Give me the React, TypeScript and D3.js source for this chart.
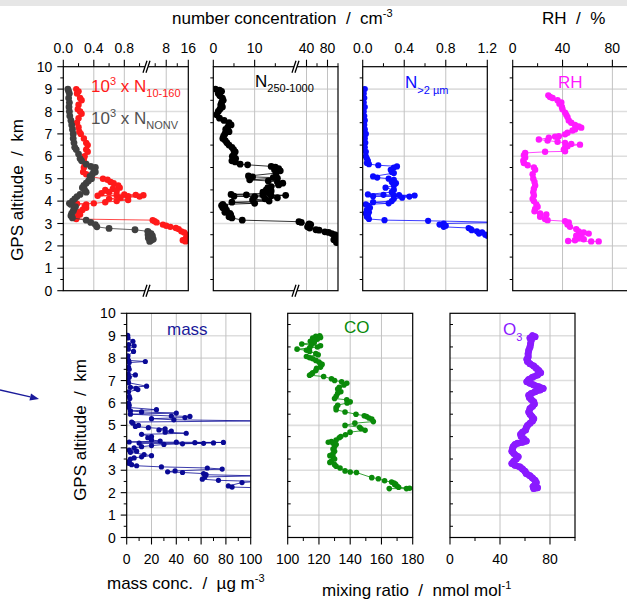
import React from 'react';
import * as d3 from 'd3';

type Pt = [number, number]; // [altitude km, value]

// ---------- data (altitude km, value) ----------
const n10_160: Pt[] = [
  [9.0,0.17],[8.9,0.2],[8.8,0.18],[8.6,0.22],[8.5,0.24],[8.3,0.2],[8.1,0.19],[8.0,0.22],[7.9,0.24],[7.7,0.2],
  [7.5,0.18],[7.3,0.2],[7.1,0.21],[7.0,0.23],[6.8,0.27],[6.6,0.3],[6.5,0.32],[6.3,0.3],[6.2,0.32],[6.0,0.28],
  [5.9,0.27],[5.7,0.28],[5.5,0.27],[5.3,0.26],[5.2,0.3],[5.1,0.35],[5.0,0.52],[4.95,0.58],[4.85,0.62],[4.8,0.66],
  [4.7,0.72],[4.6,0.74],[4.55,0.65],[4.5,0.55],[4.45,0.7],[4.4,0.6],[4.35,0.5],[4.3,0.8],[4.28,0.95],[4.26,1.05],
  [4.25,0.7],[4.24,0.45],[4.22,0.85],[4.2,1.0],[4.15,0.75],[4.1,0.6],[4.05,0.85],[4.0,0.7],[3.95,0.55],[3.9,0.4],
  [3.88,0.18],[3.85,0.3],[3.75,0.28],[3.7,0.3],[3.6,0.25],[3.5,0.2],[3.4,0.22],[3.3,0.18],[3.2,0.17],[3.15,3.1],
  [3.1,3.8],[3.05,4.5],[2.95,6.8],[2.9,8],[2.85,9.5],[2.8,11.5],[2.75,12.5],[2.65,13.5],[2.6,14.5],[2.5,15.5],
  [2.4,16],[2.35,15.2],[2.3,16],[2.25,14],[2.2,15]
];
const nNonv: Pt[] = [
  [9.0,0.06],[8.9,0.07],[8.8,0.08],[8.6,0.07],[8.4,0.08],[8.2,0.075],[8.0,0.08],[7.8,0.085],[7.6,0.1],[7.4,0.11],
  [7.2,0.12],[7.0,0.13],[6.8,0.13],[6.6,0.14],[6.4,0.15],[6.3,0.17],[6.1,0.2],[5.9,0.22],[5.8,0.24],[5.65,0.3],
  [5.55,0.36],[5.5,0.42],[5.4,0.4],[5.3,0.42],[5.2,0.38],[5.1,0.35],[5.0,0.37],[4.9,0.33],[4.8,0.3],[4.7,0.27],
  [4.6,0.25],[4.5,0.28],[4.4,0.3],[4.3,0.22],[4.2,0.18],[4.1,0.15],[4.0,0.12],[3.9,0.08],[3.85,0.1],[3.75,0.16],
  [3.65,0.14],[3.55,0.13],[3.45,0.11],[3.35,0.1],[3.25,0.12],[3.15,0.3],[3.05,0.36],[2.95,0.42],[2.85,0.44],
  [2.78,0.6],[2.72,0.94],[2.65,1.3],[2.6,1.6],[2.55,2.5],[2.5,1.4],[2.45,3],[2.4,2],[2.35,1.5],[2.3,3.3],
  [2.25,2.6],[2.2,2]
];
const n250_1000: Pt[] = [
  [9.0,0.5],[8.95,1.5],[8.9,2],[8.8,1.2],[8.7,1.6],[8.6,2.2],[8.5,2.4],[8.4,2.0],[8.3,1.8],[8.2,2.2],[8.1,1.6],
  [8.0,1.2],[7.85,0.8],[7.7,1.5],[7.6,2.6],[7.5,3.8],[7.4,4.3],[7.3,3.5],[7.2,3.0],[7.1,3.8],[7.0,2.8],[6.9,2.5],
  [6.8,2.3],[6.7,2.9],[6.6,3.3],[6.5,3.8],[6.4,4.5],[6.3,4.9],[6.2,5.3],[6.1,5.0],[6.0,4.6],[5.9,5.4],[5.8,4.5],
  [5.75,5.3],[5.65,6.5],[5.62,8.3],[5.55,14.0],[5.52,15.0],[5.45,15.8],[5.4,14.8],[5.35,16.2],[5.25,15.2],
  [5.12,8.5],[5.08,9.5],[5.05,14.5],[5.02,15.5],[4.95,8.8],[4.9,13.3],[4.85,15.5],[4.8,16.8],[4.72,15.8],
  [4.65,14.0],[4.6,13.2],[4.5,12.8],[4.45,14.0],[4.4,12.0],[4.35,13.5],[4.3,4.3],[4.28,8.0],[4.27,12.0],
  [4.26,17.5],[4.24,14.0],[4.22,5.0],[4.2,10.0],[4.15,15.5],[4.1,12.5],[4.05,9.5],[4.0,13.5],[3.95,4.5],
  [3.9,10.0],[3.85,2.3],[3.8,2.0],[3.75,2.8],[3.7,2.3],[3.6,3.2],[3.5,2.8],[3.45,4.0],[3.4,4.2],[3.3,3.8],
  [3.25,4.5],[3.15,7.0],[3.08,25.6],[3.05,30],[2.98,45],[2.95,48],[2.9,44],[2.85,42],[2.8,46],[2.72,58],
  [2.7,64],[2.63,75],[2.6,82],[2.55,88],[2.5,94],[2.45,98],[2.35,96],[2.28,92],[2.22,100],[2.15,97]
];
const n2um: Pt[] = [
  [9.0,0.02],[8.8,0.01],[8.6,0.015],[8.4,0.01],[8.2,0.02],[8.0,0.01],[7.8,0.015],[7.6,0.02],[7.4,0.015],
  [7.2,0.02],[7.0,0.03],[6.8,0.02],[6.6,0.025],[6.4,0.02],[6.2,0.03],[6.0,0.03],[5.9,0.04],[5.8,0.05],
  [5.7,0.04],[5.65,0.06],[5.6,0.15],[5.55,0.33],[5.5,0.3],[5.4,0.27],[5.3,0.28],[5.25,0.3],[5.1,0.1],
  [5.05,0.14],[5.0,0.25],[4.95,0.3],[4.85,0.28],[4.8,0.32],[4.7,0.3],[4.6,0.22],[4.5,0.3],[4.4,0.28],
  [4.3,0.05],[4.28,0.2],[4.27,0.35],[4.25,0.5],[4.24,0.3],[4.22,0.1],[4.2,0.45],[4.15,0.38],[4.1,0.3],
  [4.0,0.28],[3.95,0.1],[3.9,0.25],[3.85,0.03],[3.8,0.05],[3.7,0.07],[3.6,0.04],[3.5,0.06],[3.45,0.03],
  [3.35,0.05],[3.3,0.04],[3.2,0.06],[3.15,0.21],[3.12,0.63],[3.05,1.35],[3.0,0.78],[2.95,0.74],[2.9,0.8],
  [2.85,0.78],[2.8,1.02],[2.75,1.04],[2.7,1.05],[2.65,1.1],[2.6,1.15],[2.55,1.12],[2.5,1.18],[2.45,1.2]
];
const rh: Pt[] = [
  [8.72,28.6],[8.65,30],[8.6,32],[8.5,36],[8.4,39],[8.35,37.5],[8.2,39.5],[8.1,40],[7.95,42],[7.85,43],
  [7.75,44],[7.6,45],[7.5,47],[7.4,50],[7.33,53],[7.28,55],[7.2,50],[7.15,48],[7.05,44],[6.98,42],[6.9,37],
  [6.88,34],[6.83,29],[6.75,21],[6.7,28],[6.65,36],[6.6,42],[6.55,47],[6.52,54],[6.45,44],[6.38,42],
  [6.3,41],[6.22,42],[6.2,26],[6.15,10],[6.05,9],[5.95,10],[5.8,8.5],[5.7,9],[5.6,12],[5.5,17],[5.4,18],
  [5.2,16],[5.0,16.5],[4.85,17.5],[4.7,18],[4.55,17],[4.4,16.5],[4.25,17],[4.1,16],[4.0,17],[3.85,19],
  [3.75,20],[3.65,18],[3.55,17.5],[3.45,22],[3.4,27],[3.3,22],[3.2,26],[3.15,28],[3.1,42],[3.05,45],
  [2.95,44],[2.85,46],[2.75,51],[2.65,53],[2.6,57],[2.55,61],[2.5,55],[2.45,51],[2.35,53],[2.3,57],
  [2.25,50],[2.22,44.5],[2.2,63],[2.2,69]
];
const massConc: Pt[] = [
  [9.02,0.8],[8.9,1],[8.75,5],[8.6,1.5],[8.55,6],[8.4,1.2],[8.3,5.5],[8.1,1],[7.9,1.5],[7.85,15],[7.8,2],
  [7.6,1.5],[7.5,2],[7.3,1.2],[7.25,7],[7.15,2],[7.0,1],[6.9,1.5],[6.75,16],[6.7,3],[6.65,7.5],[6.6,9],
  [6.5,1.5],[6.3,2],[6.2,2.5],[6.0,1.5],[5.9,2],[5.8,1.5],[5.7,24],[5.65,3],[5.6,12],[5.55,40],[5.5,3],
  [5.42,36],[5.4,51],[5.35,47],[5.3,20],[5.25,38],[5.2,105],[5.15,4],[5.1,5],[5.0,9.5],[4.95,7],[4.9,17.5],
  [4.85,31],[4.8,26],[4.75,36],[4.7,31],[4.65,48],[4.6,12],[4.5,20],[4.45,17],[4.35,20],[4.3,27],[4.26,2],
  [4.25,40],[4.24,78],[4.23,55],[4.22,70],[4.21,10],[4.2,62],[4.18,45],[4.15,30],[4.1,20],[4.05,12],[4.0,6],
  [3.9,2],[3.85,8],[3.8,3],[3.7,14],[3.65,20],[3.6,12],[3.55,6],[3.5,3],[3.4,2],[3.3,1.5],[3.25,4],[3.2,8],
  [3.15,28],[3.1,65],[3.05,77],[2.97,39],[2.93,33],[2.9,45],[2.85,62],[2.8,64],[2.75,105],[2.7,63],
  [2.6,61],[2.55,74],[2.5,105],[2.45,93],[2.3,82],[2.25,85],[2.22,105]
];
const coMix: Pt[] = [
  [9.0,120.5],[8.97,118],[8.92,121],[8.9,116],[8.85,119],[8.8,117],[8.75,114.5],[8.7,117],[8.63,109],
  [8.58,115],[8.55,121],[8.5,119],[8.45,114],[8.4,106],[8.35,112],[8.3,114],[8.2,118],[8.15,119.5],
  [8.07,112],[8.02,114],[7.97,116],[7.9,118],[7.83,120],[7.75,121],[7.72,122],[7.6,121],[7.55,118.5],
  [7.45,118],[7.35,116],[7.28,115],[7.24,114],[7.18,123],[7.08,128],[7.0,130],[6.95,134.5],[6.88,137.8],
  [6.8,136],[6.7,133],[6.62,132],[6.5,134],[6.43,132],[6.3,131],[6.2,130],[6.14,137.8],[6.05,140],
  [6.0,138],[5.9,132],[5.8,131],[5.7,131],[5.6,136.7],[5.5,143.7],[5.43,149],[5.4,150.5],[5.33,152],
  [5.28,153.8],[5.17,154.8],[5.1,143],[5.0,136.7],[4.92,146],[4.85,147],[4.78,149.5],[4.7,139.9],
  [4.58,137],[4.5,134],[4.45,133],[4.35,131],[4.28,128],[4.25,126],[4.2,129],[4.15,131],[4.05,130],
  [3.95,129],[3.85,130],[3.75,129],[3.65,127],[3.6,129],[3.5,130],[3.4,128],[3.35,127],[3.25,130],
  [3.18,131],[3.1,133.5],[2.97,136.7],[2.92,140],[2.9,144],[2.67,153.8],[2.62,158],[2.53,162],
  [2.47,166.5],[2.43,168],[2.38,169],[2.35,168.5],[2.3,170],[2.24,171],[2.2,178],[2.18,176],[2.18,165]
];
const o3Mix: Pt[] = [
  [9.0,66],[8.95,68],[8.9,64],[8.8,65],[8.65,64.5],[8.5,64],[8.35,63],[8.2,62.5],[8.05,62.5],[7.95,61.5],
  [7.85,62],[7.75,64],[7.65,67],[7.55,69],[7.45,71],[7.35,72.5],[7.25,70],[7.15,66],[7.05,63],[6.95,61.5],
  [6.88,64],[6.8,67],[6.72,71],[6.65,74.5],[6.58,72],[6.5,68],[6.42,65],[6.35,63],[6.25,63.5],[6.15,65],
  [6.05,67],[5.95,67.5],[5.85,66],[5.75,64],[5.6,63],[5.5,64],[5.4,65.5],[5.3,67],[5.2,66],[5.1,64],
  [5.0,62],[4.9,61],[4.8,60.5],[4.7,58],[4.6,56.5],[4.5,57],[4.4,59],[4.3,61],[4.25,58],[4.2,54],
  [4.15,52],[4.05,50.5],[3.95,50],[3.85,49.5],[3.75,51],[3.65,53],[3.6,54.5],[3.5,53],[3.4,51],[3.3,49.5],
  [3.22,52],[3.15,56],[3.05,58],[2.95,60],[2.85,61],[2.75,64],[2.65,66],[2.55,68],[2.45,69],[2.35,68],
  [2.28,66.5],[2.22,70],[2.18,67]
];

// ---------- axes ----------
const altTicks = [0, 1, 2, 3, 4, 5, 6, 7, 8, 9, 10];
const p1Ticks = [0, 0.4, 0.8, 8, 16];
const p1Labels = ['0.0', '0.4', '0.8', '8', '16'];
const p1Minor = [0.2, 0.6, 1.0, 4, 12];
const p2Ticks = [0, 10, 40, 80];
const p2Labels = ['0', '10', '40', '80'];
const p2Minor = [5, 15, 60, 100];
const p3Ticks = [0, 0.4, 0.8, 1.2];
const p3Labels = ['0.0', '0.4', '0.8', '1.2'];
const p3Minor = [0.2, 0.6, 1.0];
const p4Ticks = [0, 40, 80];
const p4Labels = ['0', '40', '80'];
const p4Minor = [20, 60, 100];
const massTicks = [0, 20, 40, 60, 80, 100];
const massMinor = [10, 30, 50, 70, 90];
const coTicks = [100, 120, 140, 160, 180];
const coMinor = [110, 130, 150, 170];
const o3Ticks = [0, 40, 80];
const o3Minor = [20, 60, 100];

const FONT = "Arial, 'Liberation Sans', Helvetica, sans-serif";
const SP = '\u00a0';

const topY = d3.scaleLinear().domain([0, 10]).range([290.7, 66.7]);
const botY = d3.scaleLinear().domain([0, 10]).range([537.5, 313.3]);

interface Series { data: Pt[]; color: string; r: number; lw?: number; }
interface PanelCfg {
  id: string;
  xDomain: number[];
  xRange: number[];
  yScale: d3.ScaleLinear<number, number>;
  ticks: number[];
  labels: string[];
  minor: number[];
  grid: number[];
  side: 'top' | 'bottom';
  yMode: 'labels' | 'out' | 'in';
  breakAt?: number;
  series: Series[];
}

function BreakMark({ x, y }: { x: number; y: number }) {
  return (
    <g>
      <polygon points={`${x - 3},${y + 6} ${x + 1},${y - 6} ${x + 4},${y - 6} ${x},${y + 6}`} fill="#fff" />
      <line x1={x - 3} y1={y + 6} x2={x + 1} y2={y - 6} stroke="#000" strokeWidth={1.3} />
      <line x1={x} y1={y + 6} x2={x + 4} y2={y - 6} stroke="#000" strokeWidth={1.3} />
    </g>
  );
}

function Panel({ cfg }: { cfg: PanelCfg }) {
  const { id, xDomain, xRange, yScale, ticks, labels, minor, grid, side, yMode, breakAt, series } = cfg;
  const x = d3.scaleLinear().domain(xDomain).range(xRange);
  const x0 = xRange[0];
  const x1 = xRange[xRange.length - 1];
  const [yb, yt] = yScale.range();
  const axisY = side === 'top' ? yt : yb;
  const dir = side === 'top' ? -1 : 1;
  const line = d3.line<Pt>().x(d => x(d[1])).y(d => yScale(d[0]));
  const halfTicks = d3.range(0.5, 10, 1);
  return (
    <g>
      <defs>
        <clipPath id={id}>
          <rect x={x0} y={yt} width={x1 - x0} height={yb - yt} />
        </clipPath>
      </defs>
      {altTicks.slice(1, -1).map(k => (
        <line key={'h' + k} x1={x0} x2={x1} y1={yScale(k)} y2={yScale(k)} stroke="#dedede" strokeWidth={1.6} />
      ))}
      {grid.map(g => (
        <line key={'v' + g} x1={x(g)} x2={x(g)} y1={yt} y2={yb} stroke="#c2c2c2" strokeWidth={1} />
      ))}
      <g clipPath={`url(#${id})`}>
        {series.map((s, i) => (
          <g key={i}>
            <path d={line(s.data) || ''} fill="none" stroke={s.color} strokeWidth={s.lw ?? 0.8}
              strokeLinejoin="round" strokeLinecap="round" />
            {s.data.map((d, j) => (
              <circle key={j} cx={x(d[1])} cy={yScale(d[0])} r={s.r} fill={s.color} />
            ))}
          </g>
        ))}
      </g>
      <rect x={x0} y={yt} width={x1 - x0} height={yb - yt} fill="none" stroke="#000" strokeWidth={1.2} />
      {ticks.map((t, i) => (
        <g key={'t' + i}>
          <line x1={x(t)} x2={x(t)} y1={axisY} y2={axisY + dir * 7} stroke="#000" strokeWidth={1.1} />
          <text x={x(t)} y={side === 'top' ? axisY - 14 : axisY + 26} textAnchor="middle"
            fontSize={14} fontFamily={FONT} fill="#000">{labels[i]}</text>
        </g>
      ))}
      {minor.map((t, i) => (
        <line key={'m' + i} x1={x(t)} x2={x(t)} y1={axisY} y2={axisY + dir * 3.5} stroke="#000" strokeWidth={1} />
      ))}
      {yMode === 'labels' && altTicks.map(k => (
        <g key={'y' + k}>
          <line x1={x0} x2={x0 - 6} y1={yScale(k)} y2={yScale(k)} stroke="#000" strokeWidth={1.1} />
          <text x={x0 - 11} y={yScale(k)} dy="0.36em" textAnchor="end" fontSize={14} fontFamily={FONT}>{k}</text>
        </g>
      ))}
      {yMode === 'labels' && halfTicks.map(k => (
        <line key={'yh' + k} x1={x0} x2={x0 - 3} y1={yScale(k)} y2={yScale(k)} stroke="#000" strokeWidth={1} />
      ))}
      {yMode !== 'labels' && halfTicks.map(k => (
        <line key={'yh' + k} x1={x0} x2={x0 + (yMode === 'in' ? 3 : -3)} y1={yScale(k)} y2={yScale(k)}
          stroke="#000" strokeWidth={1} />
      ))}
      {breakAt !== undefined && <BreakMark x={breakAt} y={yt} />}
      {breakAt !== undefined && <BreakMark x={breakAt} y={yb} />}
    </g>
  );
}

const panels: PanelCfg[] = [
  {
    id: 'c1', xDomain: [0, 1.1, 16], xRange: [63.3, 147.2, 188.3], yScale: topY,
    ticks: p1Ticks, labels: p1Labels, minor: p1Minor, grid: [0.4, 0.8, 8], side: 'top', yMode: 'labels',
    breakAt: 146,
    series: [
      { data: n10_160, color: '#ff1a1a', r: 3.2 },
      { data: nNonv, color: '#404040', r: 3.4 },
    ],
  },
  {
    id: 'c2', xDomain: [0, 20, 100], xRange: [213.3, 296, 338], yScale: topY,
    ticks: p2Ticks, labels: p2Labels, minor: p2Minor, grid: [10, 40, 80], side: 'top', yMode: 'out',
    breakAt: 295,
    series: [{ data: n250_1000, color: '#000000', r: 3.4 }],
  },
  {
    id: 'c3', xDomain: [0, 1.2], xRange: [362.7, 487.3], yScale: topY,
    ticks: p3Ticks, labels: p3Labels, minor: p3Minor, grid: [0.4, 0.8], side: 'top', yMode: 'out',
    series: [{ data: n2um, color: '#0a0aff', r: 3.1 }],
  },
  {
    id: 'c4', xDomain: [0, 100], xRange: [512.7, 637.3], yScale: topY,
    ticks: p4Ticks, labels: p4Labels, minor: p4Minor, grid: [40, 80], side: 'top', yMode: 'out',
    series: [{ data: rh, color: '#ff1aff', r: 3.2 }],
  },
  {
    id: 'c5', xDomain: [0, 100], xRange: [126.7, 250.7], yScale: botY,
    ticks: massTicks, labels: massTicks.map(String), minor: massMinor, grid: [20, 40, 60, 80], side: 'bottom',
    yMode: 'labels',
    series: [{ data: massConc, color: '#0a0a96', r: 2.6 }],
  },
  {
    id: 'c6', xDomain: [100, 180], xRange: [287.7, 412.7], yScale: botY,
    ticks: coTicks, labels: coTicks.map(String), minor: coMinor, grid: [120, 140, 160], side: 'bottom',
    yMode: 'in',
    series: [{ data: coMix, color: '#0a8a0a', r: 2.8 }],
  },
  {
    id: 'c7', xDomain: [0, 100], xRange: [450, 575], yScale: botY,
    ticks: o3Ticks, labels: o3Ticks.map(String), minor: o3Minor, grid: [40, 80], side: 'bottom',
    yMode: 'in',
    series: [{ data: o3Mix, color: '#8a1aff', r: 3.5, lw: 6.5 }],
  },
];

function Arrow() {
  const a: [number, number] = [0, 390];
  const b: [number, number] = [39, 399];
  const dx = b[0] - a[0], dy = b[1] - a[1];
  const len = Math.hypot(dx, dy);
  const ux = dx / len, uy = dy / len;
  const hl = 9, hw = 3.5;
  const bx = b[0] - ux * hl, by = b[1] - uy * hl;
  const pts = `${b[0]},${b[1]} ${bx - uy * hw},${by + ux * hw} ${bx + uy * hw},${by - ux * hw}`;
  return (
    <g>
      <line x1={a[0]} y1={a[1]} x2={bx} y2={by} stroke="#1a1a9a" strokeWidth={1.3} />
      <polygon points={pts} fill="#1a1a9a" />
    </g>
  );
}

export default function App() {
  return (
    <svg width={627} height={604} style={{ position: 'absolute', left: 0, top: 0, background: '#fff' }}
      fontFamily={FONT}>
      <rect x={0} y={0} width={627} height={604} fill="#fff" />
      <rect x={0} y={0} width={627} height={6} fill="#e6e6e6" />
      {panels.map(p => <Panel key={p.id} cfg={p} />)}

      {/* axis titles */}
      <text x={172} y={24} fontSize={17}>{`number concentration${SP}${SP}/${SP}${SP}cm`}<tspan dy={-7} fontSize={11}>-3</tspan></text>
      <text x={542} y={24} fontSize={17}>{`RH${SP}${SP}/${SP}${SP}%`}</text>
      <text transform="translate(23,190) rotate(-90)" textAnchor="middle" fontSize={17}>{`GPS altitude${SP}${SP}/${SP}${SP}km`}</text>
      <text transform="translate(86,430) rotate(-90)" textAnchor="middle" fontSize={17}>{`GPS altitude${SP}${SP}/${SP}${SP}km`}</text>
      <text x={107} y={589} fontSize={17}>{`mass conc.${SP}${SP}/${SP}${SP}µg m`}<tspan dy={-7} fontSize={11}>-3</tspan></text>
      <text x={322} y={596} fontSize={17}>{`mixing ratio${SP}${SP}/${SP}${SP}nmol mol`}<tspan dy={-7} fontSize={11}>-1</tspan></text>

      {/* series labels */}
      <text x={91} y={92} fontSize={17} fill="#ff1a1a">10<tspan dy={-7} fontSize={11}>3</tspan><tspan dy={7}>{`${SP}x N`}</tspan><tspan dy={5} fontSize={11}>10-160</tspan></text>
      <text x={91} y={124} fontSize={17} fill="#505050">10<tspan dy={-7} fontSize={11}>3</tspan><tspan dy={7}>{`${SP}x N`}</tspan><tspan dy={5} fontSize={11}>NONV</tspan></text>
      <text x={255} y={87} fontSize={17} fill="#000">N<tspan dy={5} fontSize={11}>250-1000</tspan></text>
      <text x={405} y={88} fontSize={17} fill="#0a0aff">N<tspan dy={6} fontSize={11}>&gt;2 µm</tspan></text>
      <text x={558} y={88} fontSize={17} fill="#ff1aff">RH</text>
      <text x={167} y={335} fontSize={17} fill="#1a1a9a">mass</text>
      <text x={344} y={333} fontSize={17} fill="#0a8a0a">CO</text>
      <text x={503} y={335} fontSize={17} fill="#8a1aff">O<tspan dy={6} fontSize={11}>3</tspan></text>

      <Arrow />
    </svg>
  );
}
